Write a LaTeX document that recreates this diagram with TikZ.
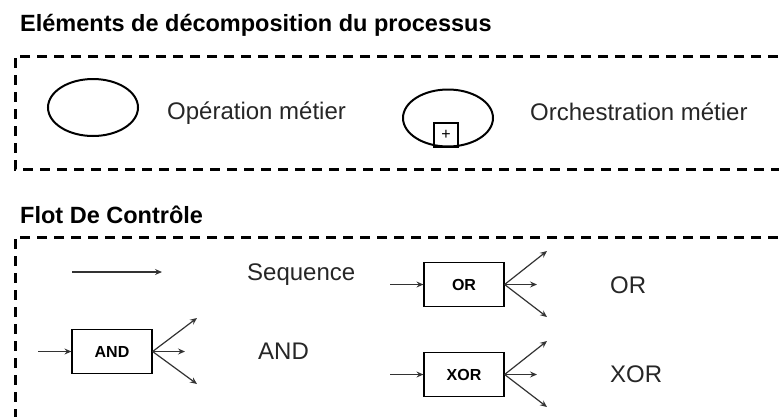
\documentclass[tikz,border=0pt]{standalone}
\usepackage{fontspec}
\setmainfont{Liberation Sans}
\usetikzlibrary{arrows.meta,shapes.geometric}
\begin{document}
\begin{tikzpicture}[x=1pt,y=-1pt,
 frame/.style={line width=3pt, dash pattern=on 10pt off 7pt},
 title/.style={font=\fontsize{23.5}{28}\selectfont\bfseries, anchor=base west, inner sep=0},
 lbl/.style={font=\fontsize{24}{28}\selectfont, anchor=base west, inner sep=0, text=black!85},
 gate/.style={draw, line width=1.2pt, minimum width=80pt, minimum height=44pt, inner sep=0, font=\fontsize{16}{18}\selectfont\bfseries},
 flow/.style={-{Stealth[length=7pt,width=6pt,inset=2.5pt]}, line width=1.2pt, draw=black!80},
 oval/.style={draw, ellipse, line width=2pt, minimum width=90pt, minimum height=57pt, inner sep=0}]
\useasboundingbox (0,0) rectangle (779,416);
% frames
\draw[frame] (795,56) -- (15,56) -- (15,169) -- (795,169);
\draw[frame] (795,237) -- (15,237) -- (15,430);
% titles
\node[title] (t1) at (20,31) {Eléments de décomposition du processus};
\node[title] (t2) at (20,223) {Flot De Contrôle};
% decomposition elements
\node[oval] (op) at (93,107.5) {};
\node[oval] (orch) at (448,118) {};
\node[draw, line width=1.1pt, minimum size=24pt, inner sep=0, anchor=south, font=\fontsize{16}{16}\selectfont] (plus) at ([xshift=-2pt]orch.south) {+};
\node[lbl] (l1) at (167,119) {Opération métier};
\node[lbl] (l2) at (530,120) {Orchestration métier};
% sequence
\coordinate (s0) at (72,272);
\coordinate (s1) at (162,272);
\draw[flow] (s0) -- (s1);
\node[lbl] (l3) at (247,280) {Sequence};
% AND
\node[gate] (and) at (112,351.5) {AND};
\coordinate (andin) at (38,351.5);
\coordinate (and1) at (197,318);
\coordinate (and2) at (185,351.5);
\coordinate (and3) at (197,384);
\draw[flow] (andin) -- (and.west);
\draw[flow] (and.east) -- (and1);
\draw[flow] (and.east) -- (and2);
\draw[flow] (and.east) -- (and3);
\node[lbl] (l4) at (258,359) {AND};
% OR
\node[gate] (or) at (464,284.5) {OR};
\coordinate (orin) at (390,284.5);
\coordinate (or1) at (547,251);
\coordinate (or2) at (537,284.5);
\coordinate (or3) at (547,317);
\draw[flow] (orin) -- (or.west);
\draw[flow] (or.east) -- (or1);
\draw[flow] (or.east) -- (or2);
\draw[flow] (or.east) -- (or3);
\node[lbl] (l5) at (610,293) {OR};
% XOR
\node[gate] (xor) at (464,374.5) {XOR};
\coordinate (xorin) at (390,374.5);
\coordinate (xor1) at (547,341);
\coordinate (xor2) at (537,374.5);
\coordinate (xor3) at (547,407);
\draw[flow] (xorin) -- (xor.west);
\draw[flow] (xor.east) -- (xor1);
\draw[flow] (xor.east) -- (xor2);
\draw[flow] (xor.east) -- (xor3);
\node[lbl] (l6) at (610,382) {XOR};
\end{tikzpicture}
\end{document}
